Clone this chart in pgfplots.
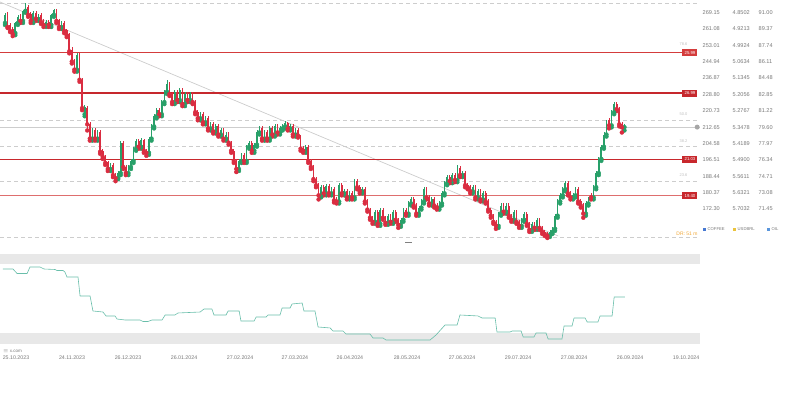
\documentclass[border=0pt]{standalone}
\usepackage{fontspec}
\setmainfont{Liberation Sans}
\usepackage{pgfplots}
\usepackage{pgfplotstable}
\pgfplotsset{compat=1.18}
\definecolor{cgreen}{RGB}{40,160,105}
\definecolor{cred}{RGB}{218,45,65}
\definecolor{lvlA}{RGB}{212,60,60}
\definecolor{lvlB}{RGB}{198,40,45}
\definecolor{lvlC}{RGB}{200,40,45}
\definecolor{lvlD}{RGB}{222,110,110}
\definecolor{labgray}{RGB}{120,120,120}
\definecolor{dashgray}{RGB}{205,205,205}
\definecolor{bandgray}{RGB}{232,232,232}
\definecolor{cteal}{RGB}{105,190,170}
\definecolor{corange}{RGB}{240,165,50}
\definecolor{legblue}{RGB}{70,120,210}
\definecolor{legyellow}{RGB}{235,195,60}
\definecolor{legblueB}{RGB}{90,150,220}
\pgfplotstableread{
i O H L C
0 264 269 263 268
1 268 269.5 261.5 262
2 263 264 259.5 260
3 261 262 257.5 258.5
4 259 264.5 258 264
5 264 268 263 267
6 267 268.5 264 265
7 265 270.5 264 270
8 270 273.8 269 272.5
9 272 273 267 268
10 268.5 269.5 264 265
11 265 270 264 269
12 269 270 265 266
13 266 268.5 265 268
14 268 268.8 263.5 264.5
15 265 266 262 263
16 263 265.5 262 264.5
17 264.5 265.5 262 263
18 263 268.5 262 268
19 268 271 267 270.5
20 270 270.8 264 265
21 265.5 266 261 262
22 262 265 261 264
23 264 265 259 260
24 260.5 261 257 258
25 258.5 259 249 250
26 250.5 252 244 245
27 245 246 240 241
28 241 249 240 248
29 248 249 235 236
30 236 237 221 222
31 219 223.5 218 222.5
32 222 223 211 214
33 214 215 206 207
34 207 212 206 211
35 211 212 206 207
36 207 211 206 210
37 210 211 199.5 200.5
38 201 202 197 198
39 198 199 194 195
40 195.5 196 191 192
41 192 195 191 194
42 194 195 188 189
43 189.5 190 186 187.5
44 187.5 191 187 190
45 190 206 189 205
46 205 206 192 193
47 193 194 189 190
48 190 194 189 193
49 193 197 192 196
50 196 203 195 202
51 202 207 201 206
52 206 207 202 203
53 203 207.5 202 206.5
54 206.5 207 200 201
55 201.5 202 198.5 200
56 200 208 199 207
57 207 214 206 213
58 213 219 212 218
59 218 222 217 221
60 221 222 218 219
61 219 226 218 225
62 225 231 224 230
63 230 236 229 234
64 234 235 228 229
65 229 230 224 225
66 225 231 224 230
67 230 231 225 226
68 226 232 225 231
69 231 232 223 224
70 224 230 223 229
71 229 230 225 226
72 226 230 225 229
73 229 230 224 225
74 225 226 219 220
75 220 221 216 217
76 217 220 216 219
77 219 220 214 215
78 215 218 214 217
79 217 218 211 212
80 212 215 211 214
81 214 215 209.5 210.5
82 210.5 214 209.5 213
83 213 214 208 209
84 209 212 208 211
85 211 212 206 207
86 207 210 206 209
87 209 210 204 205
88 205 206 200 201
89 201 202 195 196
90 196 197 190.5 192
91 192 197 191 196
92 196 200 195 199
93 199 200 195 196
94 196 204 195 203
95 203 206 202 205
96 205 206 200 201
97 201 205 200 204
98 204 211 203 210
99 210 213 209 212
100 212 213 206 207
101 207 211 206 210
102 210 211 206 207
103 207 213 206 212
104 212 213 208 209
105 209 214 208 213
106 213 214 209 210
107 210 213 209 212
108 212 214 211 213
109 213 215.5 212 214.5
110 214.5 215 211 212
111 212 214 211 213
112 213 214 208 209
113 209 212 208 211
114 211 212 207.5 208.5
115 208 209 201 202
116 202.5 203.5 200 201
117 201 204 200 203
118 203 204 195 196
119 196 197 192 193
120 193 194 186 187
121 187 188 183 184
122 184 185 177 179
123 179 184 178 183
124 183 184 179 180
125 180 184.5 179 183.5
126 183.5 184.5 179 180
127 180 183 179 182
128 182 183 175.5 176.5
129 177 178 175 176
130 176 185 175 184
131 184 185 179 180
132 180 182 179 181
133 181 182 177 178
134 178 181 177 180
135 180 181 177 178
136 178 187 177 186
137 186 187 182 183
138 183 184 180 181
139 181 183 180 182
140 182 183 175 176
141 176 177 171 172
142 172 173 167 168
143 168 169 165 166
144 166 172 165 171
145 171 172 164 165
146 165 173 164 172
147 172 173 167 168
148 168 169 164.5 165.5
149 165.5 170 164.5 169
150 169 170 165 166
151 166 172 165 171
152 171 172 166 167
153 167 168 163 164.5
154 164.5 168 163.5 167
155 167 173 166 172
156 172 173 169 170
157 170 176 169 175
158 175 178 174 177
159 177 178 173 174
160 174 175 169 170
161 170 174 169 173
162 173 177 172 176
163 176 183 175 182
164 182 183 177 178
165 178 179 174 175
166 175 178 174 177
167 177 178 173 174
168 174 175 172 173
169 173 176 172 175
170 175 181 174 180
171 180 186 179 185
172 185 189 184 188
173 188 189 185 186
174 186 190 185 189
175 189 190 185.5 186.5
176 186.5 194 185.5 192.5
177 192.5 193.5 188 189
178 189 191 188 190
179 190 191 183 184
180 184 185 182 183
181 183 184 180 181
182 181 184 180 183
183 183 184 177 178
184 178 182 177 181
185 181 182 176 177
186 177 181 176 180
187 180 181 175 176
188 176 177 171 172
189 172 173 168 169
190 169 170 165 166
191 166 167 162.5 164
192 164 171 163 170
193 170 175 169 174
194 174 175 170 171
195 171 175 170 174
196 174 175 168 169
197 169 170 166 167
198 167 172 166 171
199 171 172 165 166
200 166 167 163 164
201 164 168 163 167
202 167 171 166 170
203 170 171 164 165
204 165 166 161 162
205 162 166 161 165
206 165 166 162 163
207 163 168 162 167
208 167 168 162 163
209 163 164 160 161
210 161 162 159 160
211 160 161 158 159
212 159.5 162 158.5 161
213 161 163.5 160 162.5
214 162.5 170 161.5 169
215 169 177 168 176
216 176 180 175 179
217 179 183 178 182
218 182 186 181 185
219 185 186 179 180
220 180 181 177 178
221 178 180 177 179
222 179 183 178 182
223 182 183 175 176
224 176 177 173 174
225 174 175 168 170
226 170 176 169 175
227 175 178 174 177
228 179 180 177 178
229 178 184 177 183
230 183 191 182 190
231 190 198 189 197
232 197 204 196 203
233 203 210 202 209
234 209 216 208 215
235 216 217 212 213.5
236 213.5 221 212.5 220
237 220 225 219 224
238 224 225 220.5 221.5
239 221.5 222.5 213 214
240 214 215 210 212.5
241 212.6 214 211 212.9
}\candles
\pgfplotstableread{
x v
-0.8 80.2
3.1 80.2
4.7 75.5
8.6 75.5
9.7 82.3
13.6 82.3
15.2 80.2
19.5 79.7
20.2 78.6
22.6 78.6
23.3 77.1
24.1 71.9
28.4 71.9
29.2 52.1
33.1 52.1
34.2 36.5
38.1 35.4
39.3 31.3
42.8 31.3
43.6 28.1
46.7 27.1
52.5 27.1
53.7 25.5
55.6 25.5
57.2 27.1
61.1 27.1
62.3 32.3
66.1 32.3
67.3 34.4
75.9 35.4
77.4 38.5
80.5 38.5
81.3 32.3
86.0 32.3
86.8 36.5
91.1 36.5
91.8 26.0
96.9 26.0
97.7 30.2
101.6 30.2
102.3 32.3
107.0 32.3
107.8 39.6
110.9 39.6
111.7 43.8
115.6 44.8
116.3 36.5
120.6 36.5
121.8 19.8
126.5 18.8
127.6 15.6
131.5 15.6
132.7 12.5
142.0 12.5
143.2 8.3
147.1 8.3
148.2 6.3
165.4 6.3
167.7 11.5
171.2 21.9
175.9 21.9
177.0 32.3
184.0 31.3
185.6 29.2
190.7 29.2
191.4 14.6
196.5 14.6
197.3 15.6
200.8 15.6
201.6 9.4
205.8 9.4
206.6 13.5
210.5 13.5
211.3 7.3
216.7 7.3
217.5 20.8
220.6 20.8
221.4 29.2
225.7 29.2
226.5 25.0
230.7 25.0
231.5 31.3
236.2 31.3
237.0 51.0
241.2 51.0
}\indic
\begin{document}
\begin{tikzpicture}[x=1bp,y=1bp]
\begin{axis}[
  at={(0bp,158bp)}, anchor=south west, scale only axis,
  width=700bp, height=240bp,
  xmin=-1.95, xmax=270.4, ymin=157, ymax=275.3,
  axis line style={draw=none}, xtick=\empty,
  ytick={269.15,261.08,253.01,244.94,236.87,228.80,220.73,212.65,204.58,196.51,188.44,180.37,172.30},
  yticklabels={
   \makebox[30bp][l]{269.15}\makebox[26bp][l]{4.8502}91.00,
   \makebox[30bp][l]{261.08}\makebox[26bp][l]{4.9213}89.37,
   \makebox[30bp][l]{253.01}\makebox[26bp][l]{4.9924}87.74,
   \makebox[30bp][l]{244.94}\makebox[26bp][l]{5.0634}86.11,
   \makebox[30bp][l]{236.87}\makebox[26bp][l]{5.1345}84.48,
   \makebox[30bp][l]{228.80}\makebox[26bp][l]{5.2056}82.85,
   \makebox[30bp][l]{220.73}\makebox[26bp][l]{5.2767}81.22,
   \makebox[30bp][l]{212.65}\makebox[26bp][l]{5.3478}79.60,
   \makebox[30bp][l]{204.58}\makebox[26bp][l]{5.4189}77.97,
   \makebox[30bp][l]{196.51}\makebox[26bp][l]{5.4900}76.34,
   \makebox[30bp][l]{188.44}\makebox[26bp][l]{5.5611}74.71,
   \makebox[30bp][l]{180.37}\makebox[26bp][l]{5.6321}73.08,
   \makebox[30bp][l]{172.30}\makebox[26bp][l]{5.7032}71.45},
  yticklabel pos=right, major tick length=0pt,
  yticklabel style={font=\fontsize{5.6}{6}\selectfont, text=labgray, anchor=west, inner sep=0pt, xshift=2.5bp},
  clip mode=individual,
]
% fib dashed levels
\addplot[dashgray, line width=0.6bp, dash pattern=on 4bp off 3bp] coordinates {(-1.95,273.8) (270.4,273.8)};
\addplot[dashgray, line width=0.6bp, dash pattern=on 4bp off 3bp] coordinates {(-1.95,216.1) (270.4,216.1)};
\addplot[dashgray, line width=0.6bp, dash pattern=on 4bp off 3bp] coordinates {(-1.95,203.0) (270.4,203.0)};
\addplot[dashgray, line width=0.6bp, dash pattern=on 4bp off 3bp] coordinates {(-1.95,186.1) (270.4,186.1)};
\addplot[dashgray, line width=0.6bp, dash pattern=on 4bp off 3bp] coordinates {(-1.95,158.5) (270.4,158.5)};
% current price line
\addplot[dashgray, line width=0.6bp] coordinates {(-1.95,212.65) (270.4,212.65)};
% trend line
\addplot[black!20, line width=0.7bp] coordinates {(-1.95,274.3) (215.2,159.0)};
% red levels
\addplot[lvlA, line width=0.9bp] coordinates {(-1.95,249.2) (263.5,249.2)};
\addplot[lvlB, line width=1.2bp] coordinates {(-1.95,229.45) (263.5,229.45)};
\addplot[lvlC, line width=0.9bp] coordinates {(-1.95,196.7) (263.5,196.7)};
\addplot[lvlD, line width=0.9bp] coordinates {(-1.95,178.9) (263.5,178.9)};
% wicks
\addplot[cgreen, only marks, mark=none, error bars/.cd, y dir=plus, y explicit, error mark=none, error bar style={line width=0.6bp}]
  table[x=i, y=L, y error plus expr={\thisrow{H}-\thisrow{L}}, restrict expr to domain={\thisrow{C}-\thisrow{O}}{0:1000}] {\candles};
\addplot[cred, only marks, mark=none, error bars/.cd, y dir=plus, y explicit, error mark=none, error bar style={line width=0.6bp}]
  table[x=i, y=L, y error plus expr={\thisrow{H}-\thisrow{L}}, restrict expr to domain={\thisrow{O}-\thisrow{C}}{0.0001:1000}] {\candles};
% bodies
\addplot[cgreen, only marks, mark=none, error bars/.cd, y dir=plus, y explicit, error mark=none, error bar style={line width=1.7bp}]
  table[x=i, y=O, y error plus expr={\thisrow{C}-\thisrow{O}}, restrict expr to domain={\thisrow{C}-\thisrow{O}}{0:1000}] {\candles};
\addplot[cred, only marks, mark=none, error bars/.cd, y dir=plus, y explicit, error mark=none, error bar style={line width=1.7bp}]
  table[x=i, y=C, y error plus expr={\thisrow{O}-\thisrow{C}}, restrict expr to domain={\thisrow{O}-\thisrow{C}}{0.0001:1000}] {\candles};
% level labels
\node[fill=lvlA, text=white, font=\fontsize{4.3}{5}\selectfont, inner sep=0pt, minimum width=15bp, minimum height=7bp] at (axis cs:266.5,249.2) {25.99};
\node[fill=lvlB, text=white, font=\fontsize{4.3}{5}\selectfont, inner sep=0pt, minimum width=15bp, minimum height=7bp] at (axis cs:266.5,229.45) {26.99};
\node[fill=lvlC, text=white, font=\fontsize{4.3}{5}\selectfont, inner sep=0pt, minimum width=15bp, minimum height=7bp] at (axis cs:266.5,196.7) {21.03};
\node[fill=lvlC, text=white, font=\fontsize{4.3}{5}\selectfont, inner sep=0pt, minimum width=15bp, minimum height=7bp] at (axis cs:266.5,178.9) {19.40};
% fib labels
\node[text=black!25, font=\fontsize{4}{5}\selectfont, anchor=south] at (axis cs:264,251.2) {78.6};
\node[text=black!25, font=\fontsize{4}{5}\selectfont, anchor=south] at (axis cs:264,216.6) {50.0};
\node[text=black!25, font=\fontsize{4}{5}\selectfont, anchor=south] at (axis cs:264,203.5) {38.2};
\node[text=black!25, font=\fontsize{4}{5}\selectfont, anchor=south] at (axis cs:264,186.6) {23.6};
\node[text=corange, font=\fontsize{5}{6}\selectfont, anchor=east, inner sep=0pt] at (axis cs:269.5,160.2) {DR: 51 m};
\node[circle, fill=black!35, inner sep=0pt, minimum size=5bp] at (axis cs:269.3,212.65) {};
\end{axis}
% legend
\fill[legblue] (703,167.5) rectangle (706,170.5);
\node[anchor=west, inner sep=0pt, text=labgray, font=\fontsize{4.2}{5}\selectfont] at (707.5,169) {COFFEE};
\fill[legyellow] (733,167.5) rectangle (736,170.5);
\node[anchor=west, inner sep=0pt, text=labgray, font=\fontsize{4.2}{5}\selectfont] at (737.5,169) {USDBRL};
\fill[legblueB] (767,167.5) rectangle (770,170.5);
\node[anchor=west, inner sep=0pt, text=labgray, font=\fontsize{4.2}{5}\selectfont] at (771.5,169) {OIL};
\draw[black!50, line width=1bp] (405,156) -- (412,156);
\begin{axis}[
  at={(0bp,52bp)}, anchor=south west, scale only axis,
  width=700bp, height=96bp,
  xmin=-1.95, xmax=270.4, ymin=0, ymax=100,
  axis line style={draw=none}, ytick=\empty,
  xtick={4.28,26.07,47.86,69.65,91.44,112.8,134.2,156.4,177.8,199.6,221.4,243.2,265.0},
  xticklabels={25.10.2023,24.11.2023,26.12.2023,26.01.2024,27.02.2024,27.03.2024,26.04.2024,28.05.2024,27.06.2024,29.07.2024,27.08.2024,26.09.2024,19.10.2024},
  major tick length=0pt,
  xticklabel style={font=\fontsize{5.3}{6}\selectfont, text=labgray, anchor=center, yshift=-12bp},
  clip mode=individual,
]
\fill[bandgray] (axis cs:-1.95,2.1) rectangle (axis cs:270.4,13.5);
\fill[bandgray] (axis cs:-1.95,85.4) rectangle (axis cs:270.4,95.8);
\addplot[cteal, line width=0.6bp] table[x=x, y=v] {\indic};
\end{axis}
\node[anchor=west, inner sep=0pt, text=labgray, font=\fontsize{4.5}{5}\selectfont] at (3,47) {$\equiv$ x.com};
\pgfresetboundingbox
\path[use as bounding box] (0,0) rectangle (789,398);
\end{tikzpicture}
\end{document}
